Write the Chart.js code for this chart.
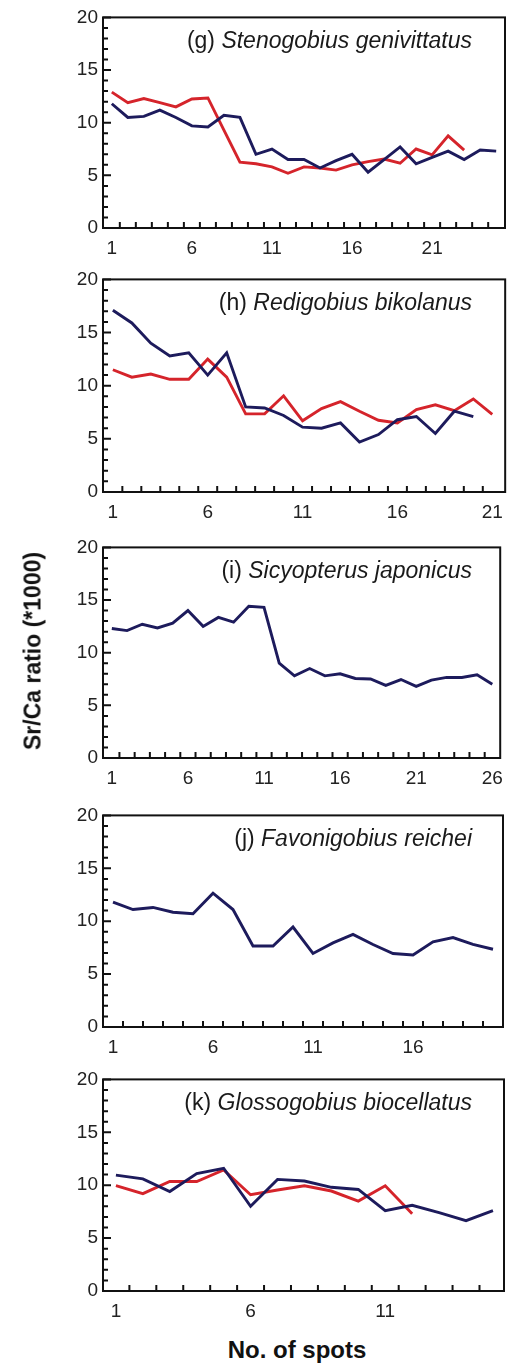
<!DOCTYPE html>
<html>
<head>
<meta charset="utf-8">
<script src="https://cdn.jsdelivr.net/npm/chart.js@4"></script>
<style>
  html, body { margin: 0; padding: 0; background: #fff; }
  body { width: 512px; height: 1363px; position: relative; overflow: hidden; font-family: "Liberation Sans", Arial, sans-serif; }
  canvas { position: absolute; left: 0; }
  .ytitle { position: absolute; left: 33px; top: 651px; transform: translate(-50%, -50%) rotate(-90deg); font-weight: bold; font-size: 23px; white-space: nowrap; color: #111; }
  .xtitle { position: absolute; left: 297px; top: 1350px; transform: translate(-50%, -50%); font-weight: bold; font-size: 24px; white-space: nowrap; color: #111; }
</style>
</head>
<body>
<canvas id="g"></canvas>
<canvas id="h"></canvas>
<canvas id="i"></canvas>
<canvas id="j"></canvas>
<canvas id="k"></canvas>
<div class="ytitle">Sr/Ca ratio (*1000)</div>
<div class="xtitle">No. of spots</div>
<script>
// Sr/Ca values, one value per spot (spot 1, 2, 3 ...)
var gBlue = [11.8, 10.5, 10.6, 11.2, 10.5, 9.7, 9.6, 10.7, 10.5, 7.0, 7.5, 6.5, 6.5, 5.7, 6.4, 7.0, 5.3, 6.5, 7.7, 6.1, 6.7, 7.3, 6.5, 7.4, 7.3];
var gRed  = [12.9, 11.9, 12.3, 11.9, 11.5, 12.25, 12.35, 9.3, 6.25, 6.1, 5.8, 5.2, 5.8, 5.7, 5.5, 6.0, 6.3, 6.55, 6.15, 7.5, 6.95, 8.75, 7.4];

var hBlue = [17.1, 15.9, 14.0, 12.8, 13.1, 11.0, 13.1, 8.0, 7.9, 7.2, 6.1, 6.0, 6.5, 4.7, 5.4, 6.8, 7.1, 5.5, 7.6, 7.1];
var hRed  = [11.5, 10.8, 11.1, 10.6, 10.6, 12.5, 10.8, 7.35, 7.35, 9.05, 6.7, 7.85, 8.5, 7.6, 6.75, 6.5, 7.75, 8.2, 7.65, 8.75, 7.3];

var iBlue = [12.3, 12.1, 12.7, 12.35, 12.8, 14.0, 12.5, 13.35, 12.9, 14.4, 14.3, 9.0, 7.8, 8.5, 7.8, 8.0, 7.55, 7.5, 6.9, 7.45, 6.8, 7.4, 7.65, 7.65, 7.9, 7.0];

var jBlue = [11.8, 11.1, 11.3, 10.85, 10.7, 12.65, 11.1, 7.65, 7.65, 9.45, 6.95, 7.95, 8.75, 7.8, 6.95, 6.8, 8.05, 8.45, 7.8, 7.35];

var kBlue = [10.95, 10.6, 9.4, 11.1, 11.6, 8.0, 10.55, 10.4, 9.8, 9.6, 7.6, 8.1, 7.4, 6.65, 7.6];
var kRed  = [9.95, 9.2, 10.35, 10.35, 11.45, 9.1, 9.55, 9.95, 9.45, 8.5, 9.95, 7.3];

var yTicks = [0, 5, 10, 15, 20];
var gTicks = [1, 6, 11, 16, 21];
var hTicks = [1, 6, 11, 16, 21];
var iTicks = [1, 6, 11, 16, 21, 26];
var jTicks = [1, 6, 11, 16];
var kTicks = [1, 6, 11];

var BLUE = "#1d1b5c";
var RED = "#d5242b";
var FONT = "'Liberation Sans', Arial, Helvetica, sans-serif";

// frame, inward ticks and the panel caption
var framePlugin = {
  id: "frame",
  afterDatasetsDraw: function(chart, args, opts) {
    var ctx = chart.ctx, a = chart.chartArea, x = chart.scales.x, y = chart.scales.y;
    ctx.save();
    ctx.strokeStyle = "#111";
    ctx.lineWidth = 2;
    ctx.strokeRect(a.left, a.top, a.right - a.left, a.bottom - a.top);
    ctx.beginPath();
    for (var v = 0; v <= 20; v++) {
      var py = y.getPixelForValue(v);
      ctx.moveTo(a.left, py);
      ctx.lineTo(a.left + (v % 5 === 0 ? 8 : 5), py);
    }
    for (var s = 1.5; s < x.max - 0.2; s++) {
      var px = x.getPixelForValue(s);
      ctx.moveTo(px, a.bottom);
      ctx.lineTo(px, a.bottom - 6);
    }
    ctx.stroke();

    ctx.fillStyle = "#1a1a1a";
    ctx.textBaseline = "alphabetic";
    ctx.font = "italic 23px " + FONT;
    var nameW = ctx.measureText(opts.name).width;
    var right = 472;
    ctx.textAlign = "right";
    ctx.fillText(opts.name, right, a.top + 31);
    ctx.font = "23px " + FONT;
    ctx.fillText(opts.tag + " ", right - nameW, a.top + 31);
    ctx.restore();
  }
};

function points(vals) {
  return vals.map(function(v, i) { return { x: i + 1, y: v }; });
}

function panel(id, top, bottom, right, xmin, xmax, xticks, tag, name, series) {
  var padTop = 14, xh = 34;
  var cv = document.getElementById(id);
  cv.width = 512;
  cv.height = padTop + (bottom - top) + xh;
  cv.style.top = (top - padTop) + "px";
  new Chart(cv, {
    type: "line",
    data: {
      datasets: series.map(function(s) {
        return { data: points(s.vals), borderColor: s.color, borderWidth: 2.9, pointRadius: 0, tension: 0, fill: false };
      })
    },
    options: {
      responsive: false,
      animation: false,
      events: [],
      layout: { padding: { top: padTop, right: 512 - right, left: 0, bottom: 0 } },
      plugins: { legend: { display: false }, tooltip: { enabled: false }, frame: { tag: tag, name: name } },
      scales: {
        x: {
          type: "linear", min: xmin, max: xmax,
          grid: { display: false, drawTicks: false },
          border: { display: false },
          afterBuildTicks: function(sc) { sc.ticks = xticks.map(function(v) { return { value: v }; }); },
          afterFit: function(sc) { sc.height = xh; },
          ticks: { padding: 9, color: "#222", font: { family: FONT, size: 19 }, maxRotation: 0, autoSkip: false }
        },
        y: {
          min: 0, max: 20,
          grid: { display: false, drawTicks: false },
          border: { display: false },
          afterBuildTicks: function(sc) { sc.ticks = yTicks.map(function(v) { return { value: v }; }); },
          afterFit: function(sc) { sc.width = 103; },
          ticks: { padding: 5, color: "#222", font: { family: FONT, size: 19 } }
        }
      }
    },
    plugins: [framePlugin]
  });
}

panel("g", 15, 228, 505, 0.45, 25.55, gTicks, "(g)", "Stenogobius genivittatus",
  [{ vals: gBlue, color: BLUE }, { vals: gRed, color: RED }]);
panel("h", 277, 492, 507, 0.48, 21.68, hTicks, "(h)", "Redigobius bikolanus",
  [{ vals: hBlue, color: BLUE }, { vals: hRed, color: RED }]);
panel("i", 545, 758, 505, 0.42, 26.52, iTicks, "(i)", "Sicyopterus japonicus",
  [{ vals: iBlue, color: BLUE }]);
panel("j", 813, 1027, 503, 0.5, 20.5, jTicks, "(j)", "Favonigobius reichei",
  [{ vals: jBlue, color: BLUE }]);
panel("k", 1077, 1291, 504, 0.52, 15.41, kTicks, "(k)", "Glossogobius biocellatus",
  [{ vals: kBlue, color: BLUE }, { vals: kRed, color: RED }]);
</script>
</body>
</html>
